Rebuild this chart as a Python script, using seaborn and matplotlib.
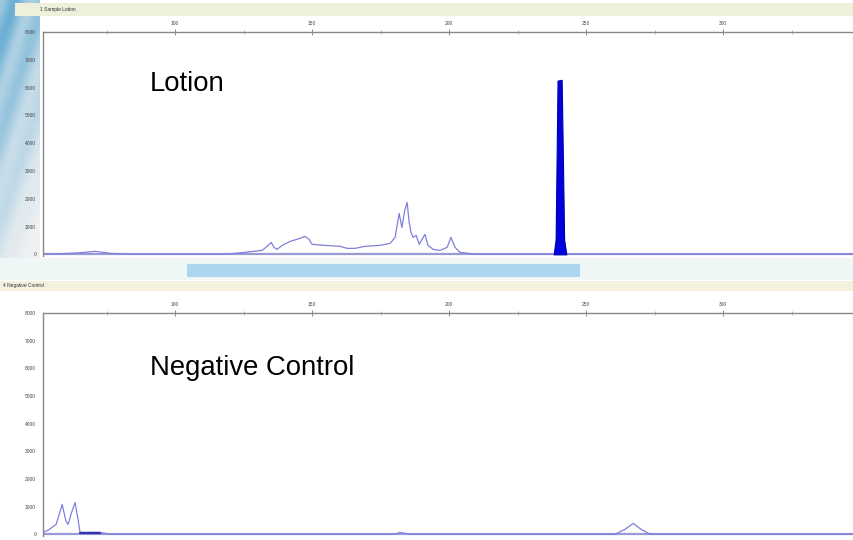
import numpy as np
import pandas as pd
import matplotlib.pyplot as plt
import matplotlib.patches as mpatches
import seaborn as sns

# sample trace (size in bp, signal in RFU)
lotion_bp = [1.8, 11.7, 17.2, 20.8, 26.3, 33.6, 68.2, 75.5, 81.8, 84.0, 85.1, 86.1, 87.2,
             89.1, 92.0, 95.6, 97.4, 98.9, 100.0, 104.7, 110.2, 112.8, 115.7, 119.3,
             124.8, 128.5, 130.3, 131.8, 132.8, 133.9, 134.7, 135.4, 136.1, 136.9,
             138.0, 139.1, 140.1, 141.2, 142.3, 144.2, 146.7, 149.3, 150.7, 152.2,
             154.0, 156.9, 159.5, 297.8]
lotion_rfu = [0, 36, 72, 108, 36, 0, 0, 72, 143, 323, 430, 251, 179,
              323, 466, 574, 646, 538, 359, 323, 287, 215, 215, 287,
              323, 395, 610, 1471, 968, 1614, 1865, 1184, 789, 610,
              682, 359, 538, 717, 323, 179, 143, 251, 610, 251,
              72, 36, 0, 0]

# the big filled peak
peak_bp = [188.2, 188.9, 189.3, 189.6, 191.1, 191.5, 192.0, 192.8]
peak_rfu = [0, 540, 3780, 6250, 6280, 3780, 540, 0]

# negative control trace
neg_bp = [1.8, 3.6, 5.1, 6.6, 8.8, 10.2, 11.0, 12.0, 13.5, 14.6, 15.3, 22.6, 26.3,
          130.3, 132.1, 135.8, 210.6, 214.2, 217.2, 220.1, 223.4, 297.8]
neg_rfu = [72, 144, 252, 360, 1080, 468, 360, 720, 1152, 540, 72, 72, 0,
           0, 72, 0, 0, 180, 396, 180, 0, 0]

x_ticks = [50, 100, 150, 200, 250]
x_labels = ["100", "150", "200", "250", "300"]
y_ticks = [0, 1000, 2000, 3000, 4000, 5000, 6000, 7000, 8000]

sns.set_style("white")
plt.rcParams['font.family'] = ['Liberation Sans', 'DejaVu Sans']

W, H = 854, 540
fig = plt.figure(figsize=(8.54, 5.40), dpi=100)


def px_axes(left, top, right, bottom):
    return fig.add_axes([left / W, 1 - bottom / H, (right - left) / W, (bottom - top) / H])


def deco(x0, y0, x1, y1, color, alpha=1.0):
    fig.patches.append(mpatches.Rectangle((x0 / W, 1 - y1 / H), (x1 - x0) / W, (y1 - y0) / H,
                                          transform=fig.transFigure, color=color,
                                          alpha=alpha, zorder=-5, lw=0))


# faded blue backdrop in the top-left corner
bg = px_axes(0, 0, 40, 262)
bg.set_zorder(-10)
gy, gx = np.mgrid[0:1:120j, 0:1:20j]
fade = np.clip(1.1 - gy * 0.9 - gx * 0.35, 0, 1) * (0.6 + 0.4 * np.sin(gy * 9 + gx * 4) ** 2)
bg.imshow(fade, cmap=sns.light_palette("#5aa6cf", as_cmap=True), aspect="auto",
          vmin=0, vmax=1.1)
bg.axis("off")

# window furniture around the two panels
deco(15, 3, W, 16, "#eef0dc")
deco(0, 258, W, 280, "#eef6f6")
deco(187, 264, 580, 277, "#acd6ef")
deco(0, 281, W, 291, "#f3f1de")
fig.text(40 / W, 1 - 10 / H, "1 Sample Lotion", fontsize=3.5, color="#333333", va="center")
fig.text(3 / W, 1 - 286 / H, "4 Negative Control", fontsize=3.5, color="#333333", va="center")

trace_col = "#8080dc"
xlim = (1.8, 297.8)

panels = [
    (32, 256, "Lotion", 0.768, pd.DataFrame({"bp": lotion_bp, "rfu": lotion_rfu})),
    (313, 536, "Negative Control", 0.753, pd.DataFrame({"bp": neg_bp, "rfu": neg_rfu})),
]

axes = []
for top, bottom, label, ty, df in panels:
    ax = px_axes(43, top, W, bottom)
    ax.set_facecolor("none")
    sns.lineplot(data=df, x="bp", y="rfu", ax=ax, color=trace_col, lw=0.9)
    ax.axhline(0, color="#9a9ad8", lw=1.6, zorder=1)
    ax.set_xlim(*xlim)
    ax.set_ylim(-60, 8000)
    ax.set_xlabel("")
    ax.set_ylabel("")
    ax.xaxis.tick_top()
    ax.set_xticks(x_ticks)
    ax.set_xticklabels(x_labels)
    ax.set_xticks([25, 75, 125, 175, 225, 275], minor=True)
    ax.set_yticks(y_ticks)
    ax.set_yticks(np.arange(500, 8000, 1000), minor=True)
    ax.set_yticklabels([str(v) for v in y_ticks])
    ax.tick_params(axis="both", which="major", labelsize=3.5, labelcolor="#444444",
                   color="#777777", length=3, width=0.6, pad=2)
    ax.tick_params(axis="x", which="major", direction="inout", length=5)
    ax.tick_params(axis="both", which="minor", color="#999999", length=2, width=0.5)
    ax.tick_params(axis="x", which="minor", direction="inout", length=3)
    for side in ["right", "bottom"]:
        ax.spines[side].set_visible(False)
    for side in ["top", "left"]:
        ax.spines[side].set_color("#888888")
        ax.spines[side].set_linewidth(1.0)
    ax.text(0.132, ty, label, transform=ax.transAxes, fontsize=19.8, color="black",
            va="center", ha="left")
    axes.append(ax)

# dark filled peak in the lotion sample
axes[0].fill_between(peak_bp, peak_rfu, color="#0000dd", lw=0.8, edgecolor="#0000aa", zorder=3)
# short second-dye stretch on the control baseline
axes[1].plot([15.3, 22.6], [40, 40], color="#3333aa", lw=1.6, zorder=3)

fig.savefig("out.png", dpi=100, facecolor="white")
